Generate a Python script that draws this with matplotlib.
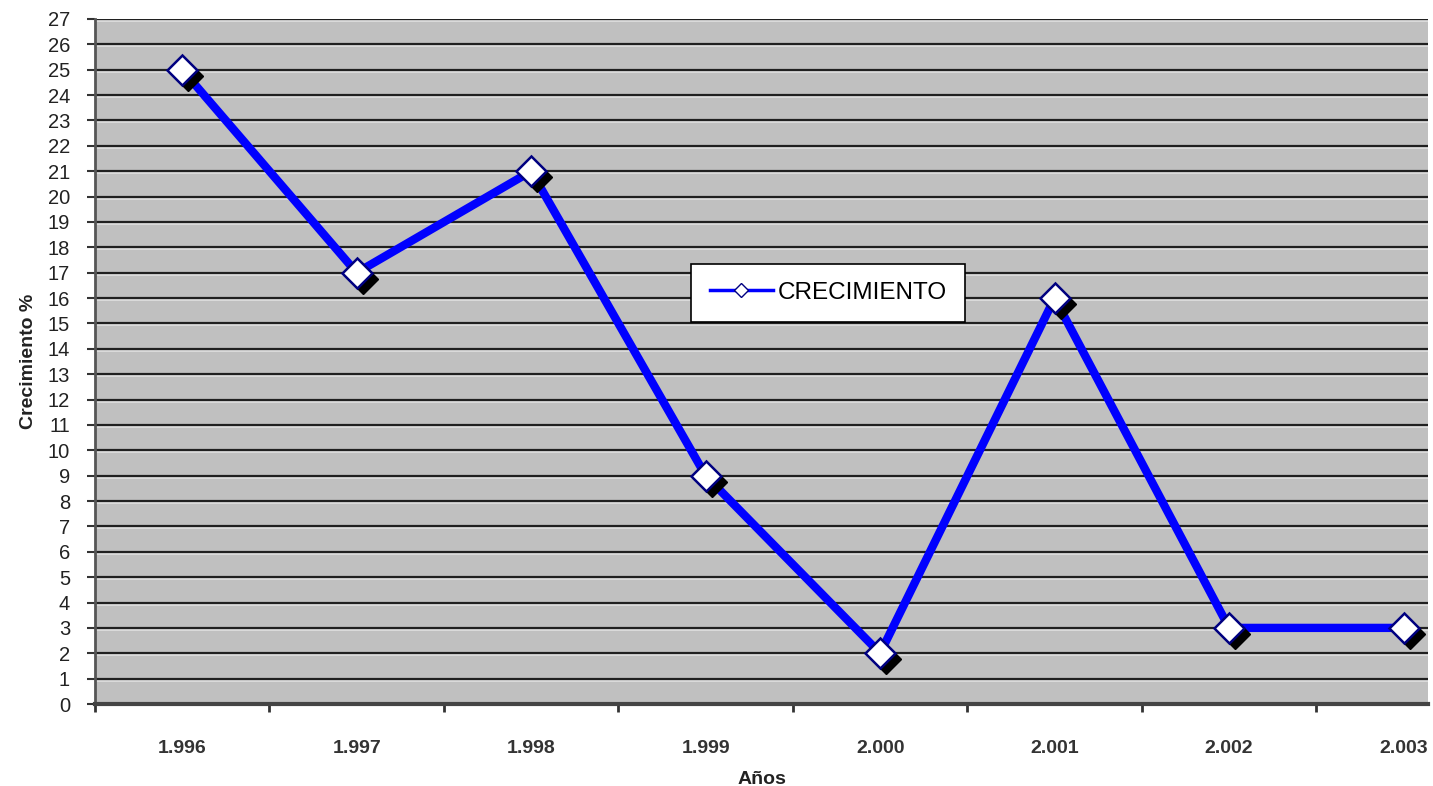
import matplotlib
matplotlib.use("Agg")
import matplotlib.pyplot as plt
import matplotlib.transforms as mtransforms
from matplotlib.lines import Line2D

years = ["1.996", "1.997", "1.998", "1.999", "2.000", "2.001", "2.002", "2.003"]
crecimiento = [25, 17, 21, 9, 2, 16, 3, 3]
y_ticks = list(range(0, 28))

plt.rcParams['font.family'] = ['Liberation Sans', 'DejaVu Sans']

fig = plt.figure(figsize=(14.33, 7.86), dpi=100)
ax = fig.add_axes([95/1433, 1 - 704/786, 1333/1433, 685/786])
ax.set_facecolor('#C0C0C0')

x = list(range(len(years)))

# gridlines with light highlight below
hl_tr = mtransforms.offset_copy(ax.get_yaxis_transform(), fig=fig, x=0, y=-2, units='dots')
for v in y_ticks[1:]:
    ax.plot([0, 1], [v, v], color='#E0E0E0', lw=1.2, zorder=1, transform=hl_tr)
    ax.axhline(v, color='#202020', lw=1.6, zorder=1.1)

ax.plot(x, crecimiento, color='#0000FF', lw=6, zorder=3, solid_joinstyle='miter')
shadow = mtransforms.offset_copy(ax.transData, fig=fig, x=6, y=-6, units='dots')
ax.plot(x, crecimiento, linestyle='none', marker='D', markersize=15,
        markerfacecolor='black', markeredgecolor='black', transform=shadow, zorder=4)
ax.plot(x, crecimiento, linestyle='none', marker='D', markersize=15,
        markerfacecolor='white', markeredgecolor='#000080', markeredgewidth=1.8, zorder=5)

ax.set_xlim(-0.5, 7.14)
ax.set_ylim(0, 27)
ax.set_yticks(y_ticks)
ax.set_yticklabels([str(v) for v in y_ticks], fontsize=14.5, color='#222222')
ax.set_xticks(x)
ax.set_xticklabels(years, fontsize=14, fontweight='bold', color='#333333')
ax.tick_params(axis='x', length=0, pad=26)
ax.set_xticks([i + 0.5 for i in range(-1, 7)], minor=True)
ax.tick_params(axis='x', which='minor', length=6, width=2, color='#333333', direction='out')
ax.tick_params(axis='y', length=6, width=1.5, color='#333333', pad=12)

for s in ['top', 'right']:
    ax.spines[s].set_visible(False)
ax.spines['left'].set_color('#555555')
ax.spines['left'].set_linewidth(2)
ax.spines['bottom'].set_color('#444444')
ax.spines['bottom'].set_linewidth(3)

ax.set_xlabel('Años', fontsize=14, fontweight='bold', color='#222222', labelpad=10)
ax.set_ylabel('Crecimiento %', fontsize=14, fontweight='bold', color='#222222', labelpad=8)

handle = Line2D([], [], color='#0000FF', lw=2.5, marker='D', markersize=7,
                markerfacecolor='white', markeredgecolor='#000080', markeredgewidth=1)
leg = ax.legend([handle], ['CRECIMIENTO'], loc='center', bbox_to_anchor=(0.55, 0.6),
                fontsize=17.5, frameon=True, fancybox=False, framealpha=1,
                edgecolor='black', handlelength=2.6, borderpad=0.75, handletextpad=0.2,
                borderaxespad=0)
leg.get_frame().set_linewidth(1.2)
leg.set_zorder(6)

fig.savefig('out.png', dpi=100)
